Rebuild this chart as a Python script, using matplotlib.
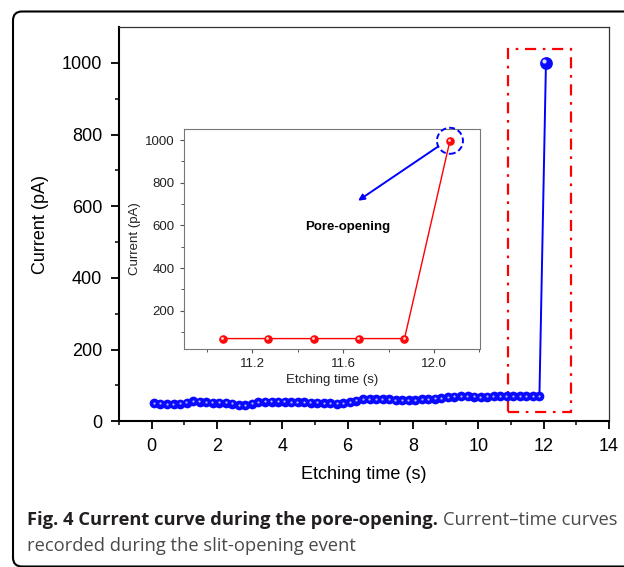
import numpy as np
import matplotlib
matplotlib.use("Agg")
import matplotlib.pyplot as plt
import matplotlib.transforms as mtransforms
from matplotlib.patches import Rectangle, Circle, FancyBboxPatch

# main curve: etching time (s) vs current (pA)
time_s = [0.07, 0.27, 0.47, 0.67, 0.87, 1.07, 1.27, 1.47, 1.67, 1.87,
          2.07, 2.27, 2.47, 2.67, 2.87, 3.07, 3.27, 3.47, 3.67, 3.87,
          4.07, 4.27, 4.47, 4.67, 4.87, 5.07, 5.27, 5.47, 5.67, 5.87,
          6.07, 6.27, 6.47, 6.67, 6.87, 7.07, 7.27, 7.47, 7.67, 7.87,
          8.07, 8.27, 8.47, 8.67, 8.87, 9.07, 9.27, 9.47, 9.67, 9.87,
          10.07, 10.27, 10.47, 10.67, 10.87, 11.07, 11.27, 11.47, 11.67, 11.87,
          12.07]
current_pa = [50, 49, 48, 48, 49, 52, 56, 55, 53, 52,
              52, 52, 49, 46, 46, 49, 53, 55, 55, 55,
              55, 54, 54, 53, 52, 52, 51, 50, 49, 50,
              53, 58, 61, 62, 62, 62, 61, 60, 59, 59,
              60, 61, 62, 63, 65, 67, 69, 71, 70, 69,
              68, 69, 70, 71, 71, 70, 70, 70, 70, 70,
              1000]

# inset: zoom on the opening
inset_time = [11.07, 11.27, 11.47, 11.67, 11.87, 12.07]
inset_current = [69, 69, 69, 69, 69, 997]

main_xticks = [0, 2, 4, 6, 8, 10, 12, 14]
main_yticks = [0, 200, 400, 600, 800, 1000]
inset_xticks = [11.2, 11.6, 12.0]
inset_yticks = [200, 400, 600, 800, 1000]

caption_bold = "Fig. 4 Current curve during the pore-opening."
caption_rest = "Current\u2013time curves"
caption_line2 = "recorded during the slit-opening event"

plt.rcParams['font.family'] = ['Liberation Sans', 'DejaVu Sans']

fig = plt.figure(figsize=(6.24, 5.67), dpi=100)
W, H = 624, 567


def ax_rect(l, t, r, b):
    return [l / W, 1 - b / H, (r - l) / W, (b - t) / H]


def ball(ax, x, y, color, size, hl_size, dx=-0.6, dy=0.6, hl_color='white',
         hl_alpha=0.85, z=4):
    ax.plot(x, y, 'o', color=color, markersize=size, markeredgewidth=0, zorder=z)
    off = mtransforms.offset_copy(ax.transData, fig=fig, x=dx, y=dy, units='points')
    ax.plot(x, y, 'o', color=hl_color, alpha=hl_alpha, markersize=hl_size,
            markeredgewidth=0, transform=off, zorder=z + 0.1)


# ---- main axes
ax = fig.add_axes(ax_rect(119, 27, 609, 421.3))
ax.plot(time_s, current_pa, '-', color='#0000ff', lw=1.4, zorder=3)
ball(ax, time_s[:-1], current_pa[:-1], '#0a0aff', 7.0, 1.6, dx=-0.2, dy=0.2,
     hl_color='#e0e0ff', hl_alpha=0.8)
ball(ax, time_s[-1:], current_pa[-1:], '#0a0aff', 9.2, 3.0, dx=-1.2, dy=1.2)

ax.set_xlim(-1, 14)
ax.set_ylim(0, 1100)
ax.set_xticks(main_xticks)
ax.set_yticks(main_yticks)
ax.set_xticks(np.arange(-1, 14.5, 2), minor=True)
ax.set_yticks(np.arange(100, 1100, 200), minor=True)
ax.tick_params(axis='both', which='major', direction='out', length=5.5, width=1.3,
               labelsize=13, pad=6.5, colors='black')
ax.tick_params(axis='both', which='minor', direction='out', length=3.2, width=1.1)
for s in ['left', 'bottom']:
    ax.spines[s].set_linewidth(1.5)
for s in ['top', 'right']:
    ax.spines[s].set_linewidth(0.9)
    ax.spines[s].set_color('#333333')
ax.set_xlabel('Etching time (s)', fontsize=13, labelpad=8)
ax.set_ylabel('Current (pA)', fontsize=13, labelpad=9)

# red dash-dot box around the opening
ax.add_patch(Rectangle((10.9, 27), 1.95, 1013, fill=False, edgecolor='#ff0000',
                       lw=1.6, linestyle=(0, (5, 3, 1.2, 3)), zorder=2))

# ---- inset
ax_in = fig.add_axes(ax_rect(184, 129.5, 479.5, 348.6))
ax_in.plot(inset_time, inset_current, '-', color='#ff0000', lw=1.0, zorder=3)
ball(ax_in, inset_time, inset_current, '#ff0a0a', 6.2, 2.0, dx=-0.6, dy=0.6)
ax_in.set_xlim(10.9, 12.2)
ax_in.set_ylim(22, 1050)
ax_in.set_xticks(inset_xticks)
ax_in.set_xticklabels(['11.2', '11.6', '12.0'])
ax_in.set_yticks(inset_yticks)
ax_in.set_xticks([11.0, 11.4, 11.8, 12.2], minor=True)
ax_in.set_yticks([100, 300, 500, 700, 900], minor=True)
ax_in.tick_params(axis='both', which='major', direction='out', length=3.2, width=0.8,
                  labelsize=9.5, pad=3.5, color='#555555', labelcolor='#222222')
ax_in.tick_params(axis='both', which='minor', direction='out', length=2, width=0.7,
                  color='#555555')
for s in ax_in.spines.values():
    s.set_linewidth(0.8)
    s.set_color('#777777')
ax_in.set_xlabel('Etching time (s)', fontsize=9.5, color='#222222', labelpad=3)
ax_in.set_ylabel('Current (pA)', fontsize=9.5, color='#222222', labelpad=3)

# dashed ring around the last point + arrow + label
ring_tr = fig.dpi_scale_trans + mtransforms.ScaledTranslation(
    inset_time[-1], inset_current[-1], ax_in.transData)
ax_in.add_patch(Circle((0, 0), radius=0.13, transform=ring_tr, fill=False,
                       edgecolor='#0000ff', lw=1.4, linestyle=(0, (3, 1.6)),
                       clip_on=False, zorder=5))
ax_in.annotate('', xy=(11.666, 716), xytext=(12.018, 970),
               arrowprops=dict(arrowstyle='-|>', color='#0000ff', lw=1.4,
                               mutation_scale=9, shrinkA=0, shrinkB=0))
ax_in.text(11.62, 594, 'Pore-opening', fontsize=9.5, fontweight='bold',
           ha='center', va='center', color='black')

# ---- outer rounded frame and caption
frame = FancyBboxPatch((13, 0.5), 640, 555, boxstyle='round,pad=0,rounding_size=9',
                       transform=mtransforms.IdentityTransform(), fill=False,
                       edgecolor='black', lw=1.5)
fig.patches.append(frame)

cap_font = ['Open Sans', 'DejaVu Sans']
cap_size = 13.2
renderer = fig.canvas.get_renderer()
t1 = fig.text(27 / W, 1 - 520 / H, caption_bold, fontsize=cap_size, fontweight='bold',
              family=cap_font, color='#231f20', va='center', ha='left')
bb = t1.get_window_extent(renderer=renderer)
fig.text((bb.x1 + 5) / W, 1 - 520 / H, caption_rest, fontsize=cap_size,
         family=cap_font, color='#4a4a4a', va='center', ha='left')
fig.text(27 / W, 1 - 546 / H, caption_line2, fontsize=cap_size,
         family=cap_font, color='#4a4a4a', va='center', ha='left')

fig.savefig('out.png', dpi=100)
